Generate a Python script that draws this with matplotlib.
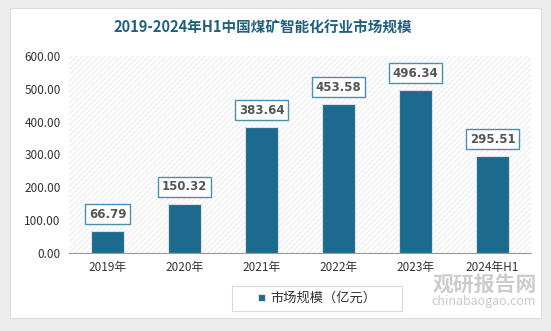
import matplotlib.pyplot as plt
from matplotlib.patches import Rectangle
import numpy as np

plt.rcParams['font.family'] = ['Noto Sans CJK SC', 'DejaVu Sans']
plt.rcParams['hatch.linewidth'] = 0.6

years = ['2019年', '2020年', '2021年', '2022年', '2023年', '2024年H1']
values = [66.79, 150.32, 383.64, 453.58, 496.34, 295.51]
yticks = [0, 100, 200, 300, 400, 500, 600]

W, H = 551, 331
fig = plt.figure(figsize=(W / 100, H / 100), dpi=100)
fig.patch.set_facecolor('#ececec')

# white card + legend frame, in a background axes (pixel coords)
bg = fig.add_axes([0, 0, 1, 1], zorder=-10)
bg.set_xlim(0, W)
bg.set_ylim(H, 0)
bg.axis('off')
bg.add_patch(Rectangle((10, 8), 531, 310, facecolor='white', edgecolor='#dddddd', lw=0.8))
bg.add_patch(Rectangle((232, 286), 170, 25, facecolor='white', edgecolor='#d9d9d9', lw=0.8))

fig.text(263 / W, 1 - 28 / H, '2019-2024年H1中国煤矿智能化行业市场规模',
         ha='center', va='center', fontsize=10.5, fontweight='bold', color='#1f5f80')

ax = fig.add_axes([69 / W, 1 - 253 / H, 462 / W, 197 / H])
ax.set_facecolor('white')
ax.add_patch(Rectangle((0, 0), 1, 1, transform=ax.transAxes, facecolor='none',
                       edgecolor='#e6e6e6', hatch='//////', lw=0, zorder=0))

x = np.arange(len(years))
bars = ax.bar(x, values, width=0.43, color='#1c6a8e', edgecolor='#e0e0e0', lw=0.8,
              zorder=3, label='市场规模（亿元）')
for xi, v in zip(x, values):
    ax.annotate(f'{v:.2f}', (xi, v), xytext=(0, 12), textcoords='offset points',
                ha='center', va='center', fontsize=8.5, fontweight='bold', color='#555555',
                family=['DejaVu Sans'], zorder=5,
                bbox=dict(boxstyle='square,pad=0.3', fc='white', ec='#4a8fb0', lw=1))

ax.set_xlim(-0.5, len(years) - 0.5)
ax.set_ylim(0, 600)
ax.set_yticks(yticks)
ax.set_yticklabels([f'{t:.2f}' for t in yticks], fontsize=8.5, color='#333333')
ax.set_xticks(x)
ax.set_xticklabels(years, fontsize=8.5, color='#333333')
ax.tick_params(length=0, pad=6)
for s in ['top', 'right', 'left']:
    ax.spines[s].set_visible(False)
ax.spines['bottom'].set_color('#999999')

leg = fig.legend(handles=[bars], labels=['市场规模（亿元）'], loc='center',
                 bbox_to_anchor=(317 / W, 1 - 298.5 / H), fontsize=9.5, frameon=False,
                 handlelength=0.5, handleheight=0.5, handletextpad=0.4)
for t in leg.get_texts():
    t.set_color('#333333')

# watermark
fig.text(485 / W, 1 - 284 / H, '观研报告网', ha='center', va='center', fontsize=15,
         fontweight='bold', color='#c4c4c4', alpha=0.85)
fig.text(484 / W, 1 - 301 / H, 'chinabaogao.com', ha='center', va='center', fontsize=9,
         color='#c4c4c4', alpha=0.9)

fig.savefig('out.png', dpi=100, facecolor=fig.get_facecolor())
